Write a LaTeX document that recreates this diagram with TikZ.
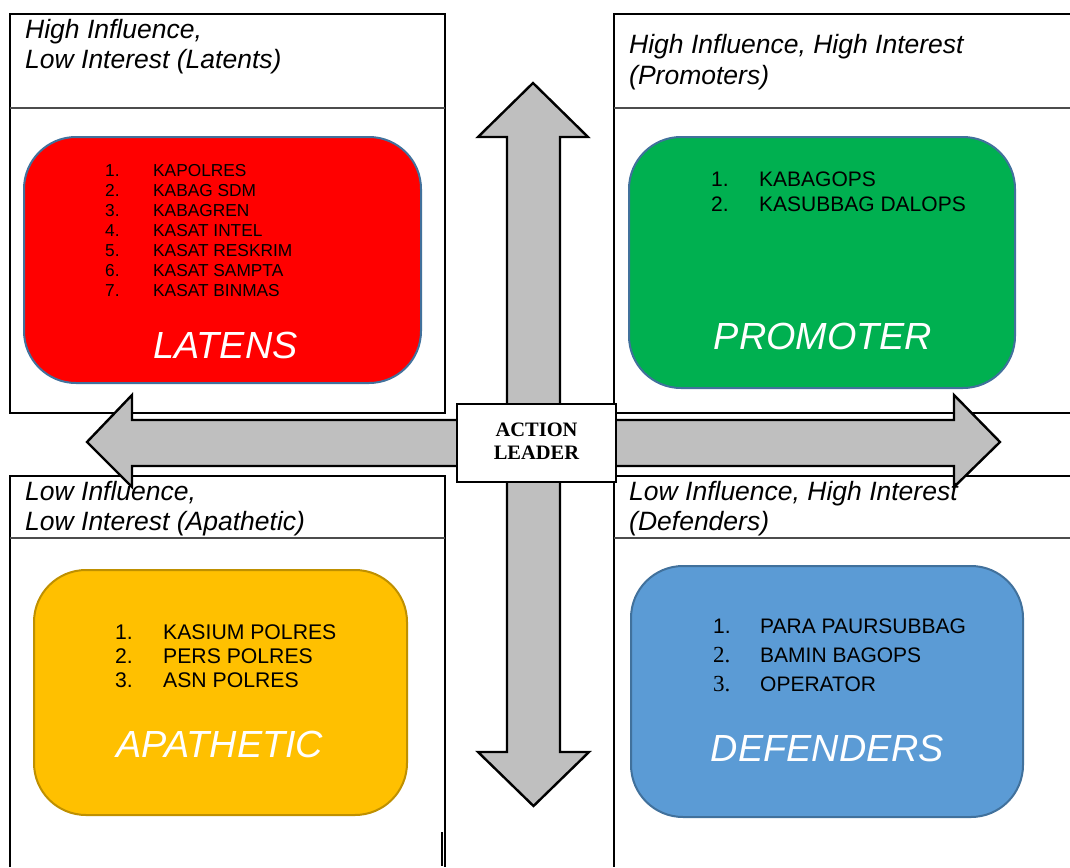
\documentclass[tikz,border=0pt]{standalone}
\usepackage{fontspec}
\setmainfont{Liberation Sans}
\newfontfamily\tnr{Liberation Serif}
\definecolor{qred}{HTML}{FF0000}
\definecolor{qgreen}{HTML}{00B050}
\definecolor{qyellow}{HTML}{FFC000}
\definecolor{qblue}{HTML}{5B9BD5}
\definecolor{bblue}{HTML}{41719C}
\definecolor{bgold}{HTML}{BF9000}
\definecolor{arrgray}{HTML}{BFBFBF}
\begin{document}
\begin{tikzpicture}[x=1pt,y=-1pt,
  tbl/.style={line width=1.1pt, draw=black},
  hdr/.style={line width=1.4pt, draw=black!70},
  qbox/.style={rectangle, rounded corners=52pt, line width=2pt, inner sep=0pt},
  arr/.style={draw=black, fill=arrgray, line width=2.4pt, line join=miter},
  htxt/.style={anchor=base west, inner sep=0pt, font=\fontsize{26.5}{30}\selectfont\itshape},
  item/.style={anchor=base west, inner sep=0pt},
  big/.style={anchor=base, inner sep=0pt, text=white, font=\fontsize{37.8}{40}\selectfont\itshape},
  lead/.style={draw=black, fill=white, line width=1.5pt, minimum width=159pt, minimum height=78pt, inner sep=0pt}
]
\useasboundingbox (0,0) rectangle (1070,867);
\fill[white] (0,0) rectangle (1070,867);

% quadrant tables
\draw[tbl] (10,14) rectangle (445,413);
\draw[hdr] (10,108) -- (445,108);
\draw[tbl] (1070,14) -- (614,14) -- (614,413) -- (1070,413);
\draw[hdr] (614,108) -- (1070,108);
\draw[tbl] (10,867) -- (10,476) -- (445,476) -- (445,867);
\draw[hdr] (10,538) -- (445,538);
\draw[tbl] (1070,476) -- (614,476) -- (614,867);
\draw[hdr] (614,538) -- (1070,538);
\draw[line width=2pt] (442,832) -- (442,866);

% coloured boxes
\node[qbox, fill=qred, draw=bblue, minimum width=397pt, minimum height=246pt] (latbox) at (222.5,260) {};
\node[qbox, fill=qgreen, draw=bblue, minimum width=386pt, minimum height=251pt] (probox) at (822,262.5) {};
\node[qbox, fill=qyellow, draw=bgold, minimum width=373pt, minimum height=245pt] (apabox) at (220.5,692.5) {};
\node[qbox, fill=qblue, draw=bblue, minimum width=392pt, minimum height=251pt] (defbox) at (827,691.5) {};

% arrows
\draw[arr] (533,83) -- (588,137) -- (560,137) -- (560,752) -- (589,752) -- (533.5,806) -- (478,752) -- (507,752) -- (507,137) -- (478,137) -- cycle;
\draw[arr] (87,442) -- (132,395) -- (132,420) -- (954,420) -- (954,395) -- (1000,442) -- (954,487) -- (954,466) -- (132,466) -- (132,487) -- cycle;

% headers
\node[htxt] (h1a) at (25,39) {High Influence,};
\node[htxt] (h1b) at (25,69) {Low Interest (Latents)};
\node[htxt] (h2a) at (629,54) {High Influence, High Interest};
\node[htxt] (h2b) at (629,84) {(Promoters)};
\node[htxt] (h3a) at (25,500.5) {Low Influence,};
\node[htxt] (h3b) at (25,530.5) {Low Interest (Apathetic)};
\node[htxt] (h4a) at (629,500.5) {Low Influence, High Interest};
\node[htxt] (h4b) at (629,530.5) {(Defenders)};

% lists
\foreach \t [count=\i] in {KAPOLRES,KABAG SDM,KABAGREN,KASAT INTEL,KASAT RESKRIM,KASAT SAMPTA,KASAT BINMAS}{
  \node[item, font=\fontsize{17.3}{20}\selectfont] (rn\i) at (105,{156.5+20*\i}) {\i.};
  \node[item, font=\fontsize{17.3}{20}\selectfont] (ri\i) at (153,{156.5+20*\i}) {\t};
}
\foreach \t [count=\i] in {KABAGOPS,KASUBBAG DALOPS}{
  \node[item, font=\fontsize{21}{25}\selectfont] (gn\i) at (711,{161+25*\i}) {\i.};
  \node[item, font=\fontsize{21}{25}\selectfont] (gi\i) at (759,{161+25*\i}) {\t};
}
\foreach \t [count=\i] in {KASIUM POLRES,PERS POLRES,ASN POLRES}{
  \node[item, font=\fontsize{21.2}{24}\selectfont] (yn\i) at (115,{615.3+24*\i}) {\i.};
  \node[item, font=\fontsize{21.2}{24}\selectfont] (yi\i) at (163,{615.3+24*\i}) {\t};
}
\node[item, font=\fontsize{21}{25}\selectfont] (bn1) at (713,633.3) {1.};
\node[item, font=\fontsize{23}{25}\selectfont\tnr] (bn2) at (713,662.3) {2.};
\node[item, font=\fontsize{23}{25}\selectfont\tnr] (bn3) at (713,691.5) {3.};
\node[item, font=\fontsize{21}{25}\selectfont] (bi1) at (760,633.3) {PARA PAURSUBBAG};
\node[item, font=\fontsize{21}{25}\selectfont] (bi2) at (760,662.3) {BAMIN BAGOPS};
\node[item, font=\fontsize{21}{25}\selectfont] (bi3) at (760,691.5) {OPERATOR};

% big labels
\node[big] (latlbl) at (225.5,358) {LATENS};
\node[big] (prolbl) at (823,349) {PROMOTER};
\node[big] (apalbl) at (220,757) {APATHETIC};
\node[big] (deflbl) at (827.5,761) {DEFENDERS};

% centre
\node[lead] (leader) at (536.5,443) {};
\node[anchor=base, inner sep=0pt, font=\fontsize{20.5}{23}\selectfont\tnr\bfseries] (lead1) at (536.5,436) {ACTION};
\node[anchor=base, inner sep=0pt, font=\fontsize{20.5}{23}\selectfont\tnr\bfseries] (lead2) at (536.5,459.3) {LEADER};
\end{tikzpicture}
\end{document}
